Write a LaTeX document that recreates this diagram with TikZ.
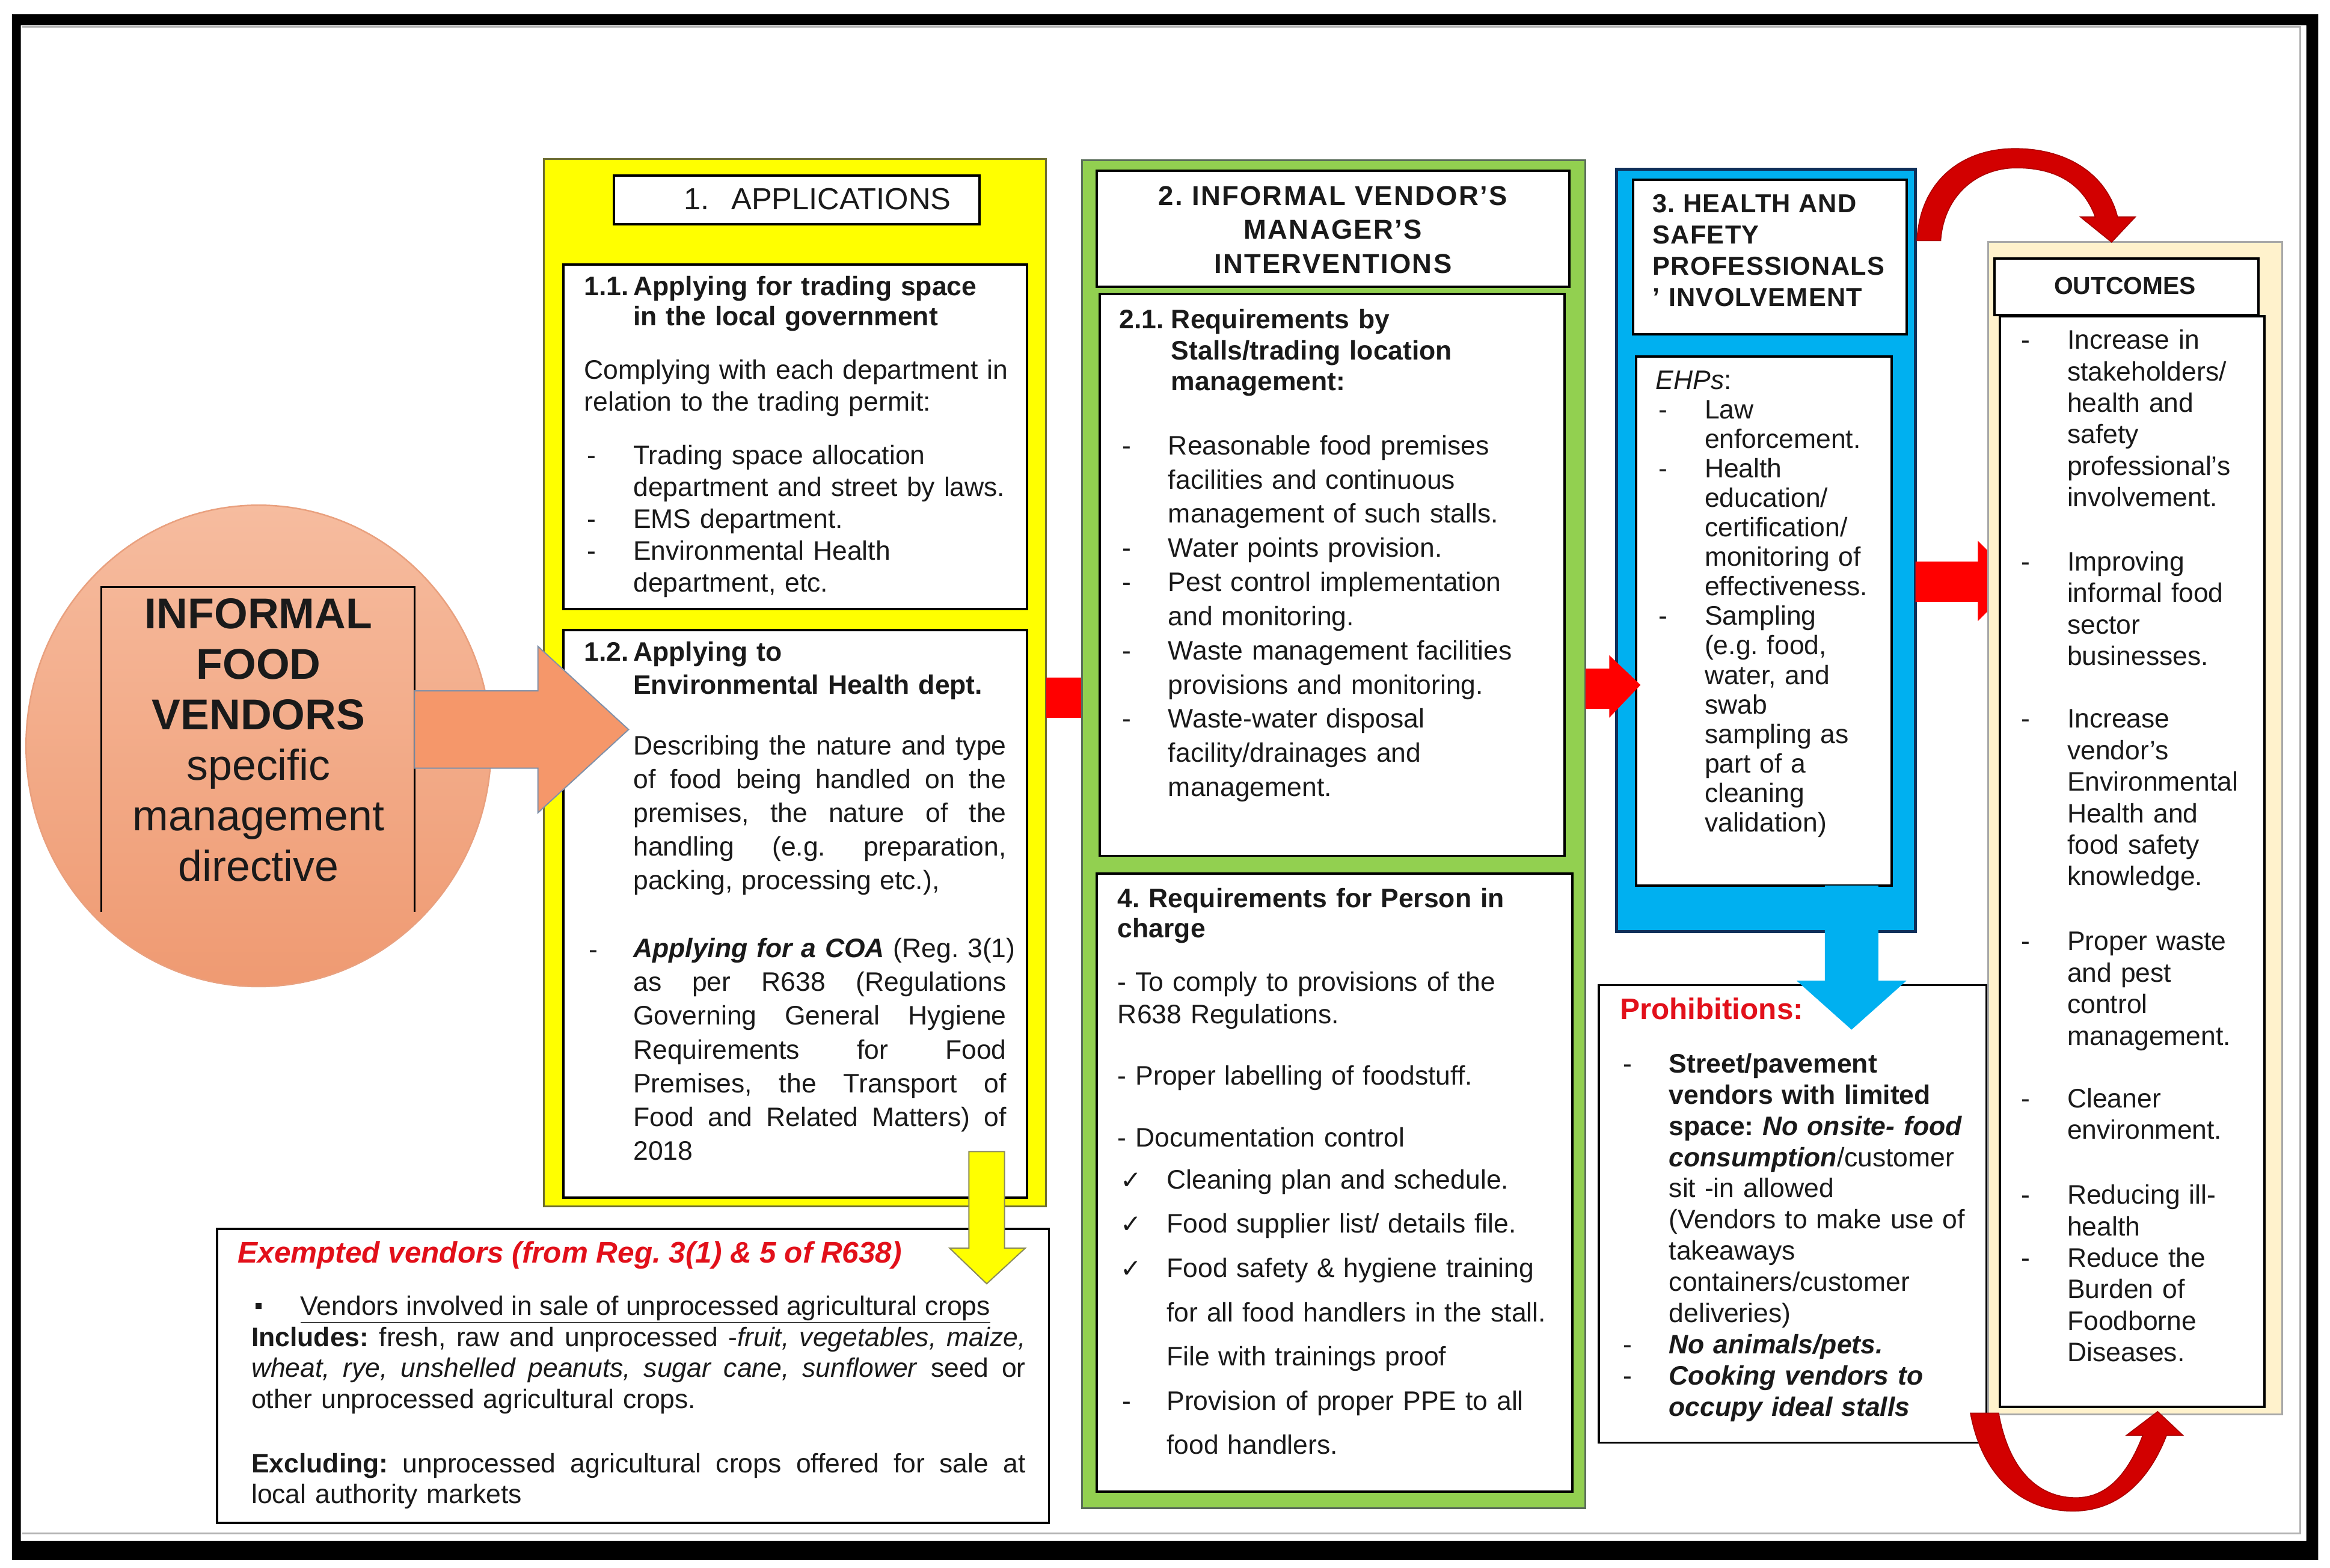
\documentclass[tikz,border=0pt]{standalone}
\usepackage{fontspec}
\setmainfont{Liberation Sans}
\newfontfamily\symfont{DejaVu Sans}
\usetikzlibrary{fit}
\frenchspacing
\definecolor{yel}{HTML}{FFFF00}
\definecolor{yelb}{HTML}{6E6E30}
\definecolor{grn}{HTML}{92D050}
\definecolor{grnb}{HTML}{5A6E5A}
\definecolor{blu}{HTML}{00B0F0}
\definecolor{blub}{HTML}{10305A}
\definecolor{salt}{HTML}{F6BC9F}
\definecolor{salbot}{HTML}{EF9A72}
\definecolor{salb}{HTML}{E9A07E}
\definecolor{oarr}{HTML}{F5976A}
\definecolor{oarrb}{HTML}{8090A8}
\definecolor{cream}{HTML}{FFF2CC}
\definecolor{creamb}{HTML}{A8A8A8}
\definecolor{rd}{HTML}{FF0000}
\definecolor{drd}{HTML}{D20000}
\definecolor{txt}{HTML}{1A1A1A}
\definecolor{redtxt}{HTML}{E2101A}
\newcommand{\mydash}{\makebox[33pt][l]{\hspace{2pt}-}}
\newcommand{\myind}{\hspace*{33pt}}
\newcommand{\mychk}{\makebox[31pt][l]{{\symfont\fontsize{17}{17}\selectfont ✓}}}
\newcommand{\jl}[2]{\leavevmode\hbox to #1pt{#2}}
\begin{document}
\begin{tikzpicture}[x=1pt,y=-1pt,
  wbox/.style={draw=black,line width=1.6pt,fill=white,inner sep=0pt},
  tx/.style={inner sep=0pt,anchor=base west,align=left,text=txt,font=\fontsize{18}{21.5}\selectfont},
]
\useasboundingbox (0,0) rectangle (1568,1055);
\fill[white] (0,0) rectangle (1568,1055);
% frame
\fill[black,even odd rule] (8,9.5) rectangle (1560,1050) (14,17) rectangle (1552,1037);
\draw[black!30,line width=1.5pt] (15,18) -- (1548,18) -- (1548,1032) -- (15,1032);

% ---------- yellow panel ----------
\node[draw=yelb,line width=1.2pt,fill=yel,inner sep=0pt,fit={(366,107) (704,812)}] (ypanel) {};
\node[wbox,fit={(413,118) (659,151)}] (t1box) {};
\node[tx,font=\fontsize{20.5}{24}\selectfont] (t1) at (460,141) {\makebox[32pt][l]{1.}APPLICATIONS};
\node[wbox,fit={(379,178) (691,410)}] (b11) {};
\node[wbox,fit={(379,424) (691,806)}] (b12) {};

\node[tx,font=\bfseries\fontsize{18}{20}\selectfont,text width=295pt] (h11) at (393,199) {\makebox[33pt][l]{1.1.}Applying for trading space\\\myind in the local government};
\node[tx,text width=295pt] (p11) at (393,255) {Complying with each department in\\relation to the trading permit:\\[14.5pt]\mydash Trading space allocation\\\myind department and street by laws.\\\mydash EMS department.\\\mydash Environmental Health\\\myind department, etc.};

\node[tx,font=\bfseries\fontsize{18}{22}\selectfont,text width=295pt] (h12) at (393,445) {\makebox[33pt][l]{1.2.}Applying to\\\myind Environmental Health dept.};
\node[tx,text width=260pt,font=\fontsize{18}{22.7}\selectfont] (p12) at (426,508) {\jl{251}{Describing \hfill the \hfill nature \hfill and \hfill type}\\\jl{251}{of \hfill food \hfill being \hfill handled \hfill on \hfill the}\\\jl{251}{premises, \hfill the \hfill nature \hfill of \hfill the}\\\jl{251}{handling \hfill (e.g. \hfill preparation,}\\packing, processing etc.),\\[23pt]\jl{251}{\textbf{\textit{Applying \hfill for \hfill a \hfill COA}} \hfill (Reg. \hfill 3(1)}\\\jl{251}{as \hfill per \hfill R638 \hfill (Regulations}\\\jl{251}{Governing \hfill General \hfill Hygiene}\\\jl{251}{Requirements \hfill for \hfill Food}\\\jl{251}{Premises, \hfill the \hfill Transport \hfill of}\\\jl{251}{Food \hfill and \hfill Related \hfill Matters) \hfill of}\\2018};
\node[tx] (d12) at (396,645) {-};

% ---------- ellipse ----------
\shade[top color=salt,bottom color=salbot] (174,502) ellipse [x radius=156.5pt, y radius=162pt];
\draw[salb,line width=1pt] (174,502) ellipse [x radius=156.5pt, y radius=162pt];
\coordinate (ell) at (174,502);
\draw[black,line width=1.2pt] (68,614) -- (68,395) -- (279,395) -- (279,614);
\node[tx,anchor=base,align=center,text width=230pt,font=\fontsize{29}{34}\selectfont] (ifv) at (174,423) {\textbf{INFORMAL}\\\textbf{FOOD}\\\textbf{VENDORS}\\specific\\management\\directive};
% orange arrow
\filldraw[fill=oarr,draw=oarrb,line width=0.8pt] (279,465) -- (362,465) -- (362,435) -- (423,491) -- (362,547) -- (362,517) -- (279,517) -- cycle;

% ---------- exempted ----------
\node[wbox,line width=1.4pt,fit={(146,827) (706,1025)}] (ex) {};
\node[tx,font=\bfseries\itshape\fontsize{20}{24}\selectfont,text=redtxt] (ext) at (160,850) {Exempted vendors (from Reg. 3(1) \& 5 of R638)};
\fill[txt] (172,877) rectangle (176,881);
\node[tx] (exb) at (202,885) {\underline{Vendors involved in sale of unprocessed agricultural crops}};
\node[tx,text width=530pt,font=\fontsize{18}{21}\selectfont] (exp) at (169,906) {\jl{521}{\textbf{Includes:} \hfill fresh, \hfill raw \hfill and \hfill unprocessed \hfill -\textit{fruit, \hfill vegetables, \hfill maize,}}\\\jl{521}{\textit{wheat, \hfill rye, \hfill unshelled \hfill peanuts, \hfill sugar \hfill cane, \hfill sunflower} \hfill seed \hfill or}\\other unprocessed agricultural crops.\\[22pt]\jl{521}{\textbf{Excluding:} \hfill unprocessed \hfill agricultural \hfill crops \hfill offered \hfill for \hfill sale \hfill at}\\local authority markets};
% yellow arrow
\filldraw[fill=yel,draw=yelb!80,line width=0.8pt] (652,775) -- (676,775) -- (676,840) -- (690,840) -- (664,864) -- (639,840) -- (652,840) -- cycle;

% red connector yellow->green
\fill[rd] (704,456) rectangle (728,483);

% ---------- green panel ----------
\node[draw=grnb,line width=1.2pt,fill=grn,inner sep=0pt,fit={(728,108) (1067,1015)}] (gpanel) {};
\node[wbox,fit={(738,115) (1056,193)}] (t2box) {};
\node[tx,anchor=base,align=center,text width=310pt,font=\bfseries\fontsize{18.4}{23}\selectfont\addfontfeatures{LetterSpace=5}] (t2) at (897,138) {2. INFORMAL VENDOR’S\\MANAGER’S\\INTERVENTIONS};
\node[wbox,fit={(740,198) (1053,576)}] (b21) {};
\node[wbox,fit={(738,588) (1058,1004)}] (b4) {};

\node[tx,font=\bfseries\fontsize{18}{21}\selectfont,text width=295pt] (h21) at (753,221) {\makebox[35pt][l]{2.1.}Requirements by\\\hspace*{35pt}Stalls/trading location\\\hspace*{35pt}management:};
\node[tx,text width=295pt,font=\fontsize{18}{23}\selectfont] (p21) at (753,306) {\mydash Reasonable food premises\\\myind facilities and continuous\\\myind management of such stalls.\\\mydash Water points provision.\\\mydash Pest control implementation\\\myind and monitoring.\\\mydash Waste management facilities\\\myind provisions and monitoring.\\\mydash Waste-water disposal\\\myind facility/drainages and\\\myind management.};

\node[tx,font=\bfseries\fontsize{18}{20}\selectfont,text width=300pt] (h4) at (752,611) {4. Requirements for Person in\\charge};
\node[tx,text width=300pt,font=\fontsize{18}{22}\selectfont] (p4) at (752,667) {- To comply to provisions of the\\R638 Regulations.\\[19pt]- Proper labelling of foodstuff.\\[20pt]- Documentation control};
\node[tx,text width=300pt,font=\fontsize{18}{29.8}\selectfont] (c4) at (754,800) {\mychk Cleaning plan and schedule.\\\mychk Food supplier list/ details file.\\\mychk Food safety \& hygiene training\\\hspace*{31pt}for all food handlers in the stall.\\\hspace*{31pt}File with trainings proof\\\makebox[31pt][l]{\hspace{1pt}-}Provision of proper PPE to all\\\hspace*{31pt}food handlers.};

% ---------- blue panel ----------
\node[draw=blub,line width=2pt,fill=blu,inner sep=0pt,fit={(1088,114) (1289,627)}] (bpanel) {};
\node[wbox,fit={(1099,121) (1283,225)}] (t3box) {};
\node[tx,font=\bfseries\fontsize{17.5}{21}\selectfont\addfontfeatures{LetterSpace=3}] (t3) at (1112,143) {3. HEALTH AND};
\node[tx,font=\bfseries\fontsize{17.5}{21}\selectfont\addfontfeatures{LetterSpace=3},text width=180pt] (t3b) at (1112,164) {SAFETY\\PROFESSIONALS\\’ INVOLVEMENT};
\node[wbox,fit={(1101,240) (1273,596)}] (ehp) {};
\node[tx,text width=165pt,font=\fontsize{18}{19.85}\selectfont] (pehp) at (1114,262) {\textit{EHPs}:\\\mydash Law\\\myind enforcement.\\\mydash Health\\\myind education/\\\myind certification/\\\myind monitoring of\\\myind effectiveness.\\\mydash Sampling\\\myind (e.g. food,\\\myind water, and\\\myind swab\\\myind sampling as\\\myind part of a\\\myind cleaning\\\myind validation)};
% red arrow green -> blue
\fill[rd] (1067,450) -- (1083,450) -- (1083,441) -- (1104,461) -- (1083,483) -- (1083,477) -- (1067,477) -- cycle;

% ---------- prohibitions ----------
\node[wbox,line width=1.4pt,fit={(1076,663) (1337,971)}] (proh) {};
\node[tx,font=\bfseries\fontsize{20}{24}\selectfont,text=redtxt] (proht) at (1090,686) {Prohibitions:};
\node[tx,text width=245pt,font=\fontsize{18}{21}\selectfont] (prohp) at (1090,722) {\mydash\textbf{Street/pavement}\\\myind\textbf{vendors with limited}\\\myind\textbf{space: \textit{No onsite- food}}\\\myind\textbf{\textit{consumption}}/customer\\\myind sit -in allowed\\\myind (Vendors to make use of\\\myind takeaways\\\myind containers/customer\\\myind deliveries)\\\mydash\textbf{\textit{No animals/pets.}}\\\mydash\textbf{\textit{Cooking vendors to}}\\\myind\textbf{\textit{occupy ideal stalls}}};
% blue arrow down
\fill[blu] (1228,596) -- (1264,596) -- (1264,660) -- (1283,660) -- (1246,693) -- (1209,660) -- (1228,660) -- cycle;

% red arrow blue -> outcomes
\fill[rd] (1289,378) -- (1331,378) -- (1331,364) -- (1358,391) -- (1331,418) -- (1331,405) -- (1289,405) -- cycle;

% ---------- outcomes ----------
\node[draw=creamb,line width=1.2pt,fill=cream,inner sep=0pt,fit={(1338,163) (1536,952)}] (opanel) {};
\node[wbox,fit={(1342,174) (1520,212)}] (tobox) {};
\node[tx,anchor=base,font=\bfseries\fontsize{16.5}{20}\selectfont] (to) at (1430,198) {OUTCOMES};
\node[wbox,fit={(1346,213) (1524,947)}] (olist) {};
\node[tx,text width=175pt,font=\fontsize{18}{21.2}\selectfont] (po) at (1358,235) {\mydash Increase in\\\myind stakeholders/\\\myind health and\\\myind safety\\\myind professional’s\\\myind involvement.\\[22pt]\mydash Improving\\\myind informal food\\\myind sector\\\myind businesses.\\[21pt]\mydash Increase\\\myind vendor’s\\\myind Environmental\\\myind Health and\\\myind food safety\\\myind knowledge.\\[22.5pt]\mydash Proper waste\\\myind and pest\\\myind control\\\myind management.\\[21pt]\mydash Cleaner\\\myind environment.\\[22.5pt]\mydash Reducing ill-\\\myind health\\\mydash Reduce the\\\myind Burden of\\\myind Foodborne\\\myind Diseases.};

% curved arrows
\filldraw[fill=drd,draw=drd!80!black,line width=0.6pt] (1290,162) .. controls (1292,122) and (1320,100) .. (1356,100) .. controls (1392,100) and (1418,118) .. (1425,146) -- (1437,146) -- (1421,163) -- (1400,146) -- (1410,146) .. controls (1402,124) and (1384,113) .. (1357,113) .. controls (1330,113) and (1308,132) .. (1306,162) -- cycle;
\filldraw[fill=drd,draw=drd!80!black,line width=0.6pt] (1326,951) .. controls (1334,995) and (1362,1017) .. (1395,1017) .. controls (1425,1017) and (1446,997) .. (1458,966) -- (1469,966) -- (1452,950) -- (1431,966) -- (1442,966) .. controls (1432,992) and (1418,1008) .. (1397,1008) .. controls (1372,1008) and (1352,990) .. (1345,951) -- cycle;
\end{tikzpicture}
\end{document}
